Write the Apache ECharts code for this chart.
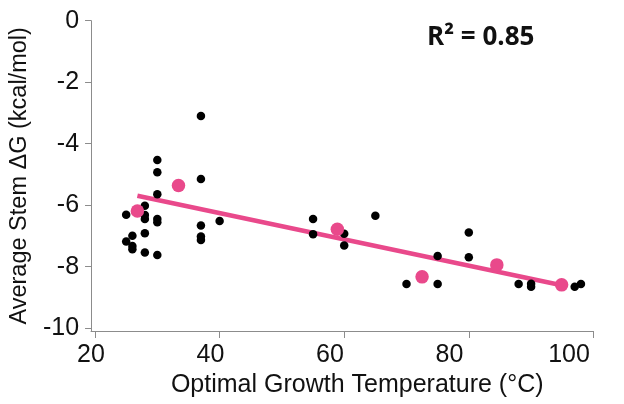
<!DOCTYPE html>
<html>
<head>
<meta charset="utf-8">
<script src="https://cdn.jsdelivr.net/npm/echarts@6/dist/echarts.min.js"></script>
<style>html,body{margin:0;padding:0;background:#fff;}#c{width:624px;height:404px;}</style>
</head>
<body>
<div id="c"></div>
<script>
// Individual organisms: optimal growth temperature (°C) and average stem ΔG (kcal/mol)
const blackTemp = [25, 25, 26, 26, 26, 28, 28, 28, 28, 28, 30, 30, 30, 30, 30, 30, 37, 37, 37, 37, 37, 40, 55, 55, 60, 60, 65, 70, 75, 75, 80, 80, 88, 90, 90, 97, 98];
const blackDG   = [-6.31, -7.18, -6.99, -7.33, -7.43, -6.02, -6.32, -6.45, -6.91, -7.54, -4.53, -4.93, -5.64, -6.45, -6.55, -7.62, -3.10, -5.15, -6.66, -7.02, -7.13, -6.51, -6.45, -6.94, -6.93, -7.31, -6.34, -8.56, -7.65, -8.56, -6.89, -7.69, -8.56, -8.55, -8.65, -8.65, -8.56];
// Binned averages (pink)
const avgTemp = [26.8, 33.4, 58.9, 72.5, 84.5, 94.9];
const avgDG   = [-6.19, -5.36, -6.78, -8.33, -7.94, -8.59];
// Linear fit endpoints
const fitTemp = [26.8, 94.9];
const fitDG   = [-5.69, -8.60];
// Tick labels
const xTicks = [20, 40, 60, 80, 100];
const yTicks = [0, -2, -4, -6, -8, -10];
const r2Text = 'R² = 0.85';

const zip = (a, b) => a.map((v, i) => [v, b[i]]);
const pink = '#E9498B';
const axisGray = '#8c8c8c';
const font = 'Liberation Sans, Arial, Helvetica, sans-serif';

const chart = echarts.init(document.getElementById('c'), null, {renderer: 'canvas'});
chart.setOption({
  animation: false,
  backgroundColor: '#fff',
  grid: [
    {left: 91, right: 30.6, top: 20.7, bottom: 73, containLabel: false},
    // label strip for the x tick labels (the reference sets them slightly left of the ticks)
    {left: 91, right: 55, top: 20.7, bottom: 73, containLabel: false}
  ],
  xAxis: [{
    type: 'value', min: 19.36, max: 100,
    name: 'Optimal Growth Temperature (°C)',
    nameLocation: 'middle', nameGap: 42,
    nameTextStyle: {fontFamily: font, fontSize: 25, color: '#111', padding: [0, 0, 0, 30]},
    axisLine: {show: true, onZero: false, lineStyle: {color: axisGray, width: 1}},
    axisTick: {show: true, length: 7, lineStyle: {color: axisGray}, customValues: xTicks},
    axisLabel: {show: false},
    splitLine: {show: false}
  }, {
    type: 'value', gridIndex: 1, min: 20, max: 100, interval: 20,
    axisLine: {show: false}, axisTick: {show: false}, splitLine: {show: false},
    axisLabel: {fontFamily: font, fontSize: 25, color: '#111', margin: 12, customValues: xTicks}
  }],
  yAxis: [{
    type: 'value', min: -10.09, max: 0,
    name: 'Average Stem ΔG (kcal/mol)',
    nameLocation: 'middle', nameGap: 56, nameRotate: 90,
    nameTextStyle: {fontFamily: font, fontSize: 23.5, color: '#111'},
    axisLine: {show: true, onZero: false, lineStyle: {color: axisGray, width: 1}},
    axisTick: {show: true, length: 6, lineStyle: {color: axisGray}, customValues: yTicks},
    axisLabel: {fontFamily: font, fontSize: 25, color: '#111', margin: 12, customValues: yTicks},
    splitLine: {show: false}
  }, {
    type: 'value', gridIndex: 1, min: -10, max: 0, show: false
  }],
  graphic: [{
    type: 'text', left: 427, top: 25,
    style: {text: r2Text, font: 'bold 26px "Open Sans", sans-serif', fill: '#111'}
  }],
  series: [
    {type: 'line', data: zip(fitTemp, fitDG), symbol: 'none', lineStyle: {color: pink, width: 4.5}, z: 2},
    {type: 'scatter', data: zip(blackTemp, blackDG), symbolSize: 8.5, itemStyle: {color: '#000', opacity: 1}, z: 3},
    {type: 'scatter', data: zip(avgTemp, avgDG), symbolSize: 13.5, itemStyle: {color: pink, opacity: 1}, z: 4}
  ]
});
</script>
</body>
</html>
